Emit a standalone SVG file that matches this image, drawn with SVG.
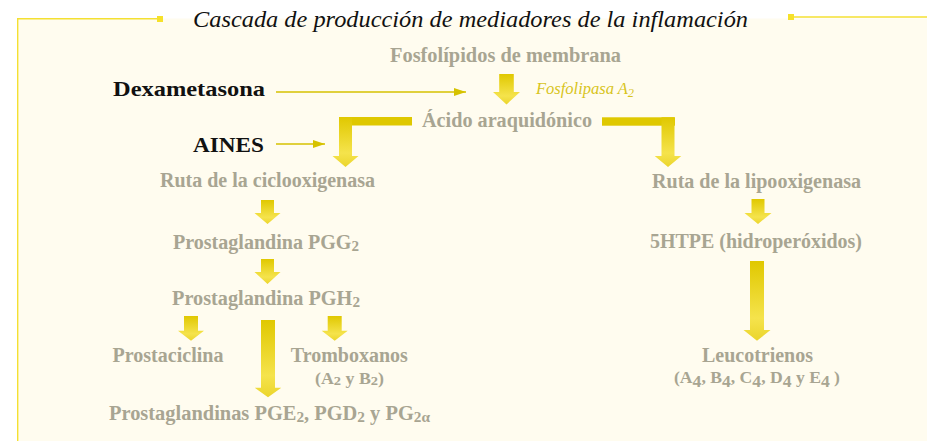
<svg xmlns="http://www.w3.org/2000/svg" width="927" height="441" viewBox="0 0 927 441">
<style>
.lbl{font-family:"Liberation Serif","Times New Roman",serif;font-weight:bold;font-size:20px;fill:#a8a592;text-anchor:middle}
.sm{font-size:16px}
.drug{font-family:"Liberation Serif","Times New Roman",serif;font-weight:bold;font-size:22px;fill:#111}
.blk{fill:url(#g)}
.bar{fill:#dfc800}
.thin{stroke:#d6c200;stroke-width:1.5;fill:none}
.frame{stroke:#f4e032;stroke-width:1.4;fill:none}
</style>
<defs>
<linearGradient id="g" x1="0" y1="0" x2="0" y2="1">
<stop offset="0" stop-color="#e0c800"/>
<stop offset="0.72" stop-color="#f5e34c"/>
<stop offset="1" stop-color="#ebd52c"/>
</linearGradient>
<marker id="ah" viewBox="0 0 12 8" refX="12" refY="4" markerWidth="12" markerHeight="8" markerUnits="userSpaceOnUse" orient="auto">
<path d="M0,0 L12,4 L0,8 Z" fill="#d6c200"/>
</marker>
</defs>
<rect x="0" y="0" width="927" height="441" fill="#ffffff"/>
<rect x="17.5" y="18.5" width="910" height="423" fill="#fffcef"/>
<g id="frame">
<path class="frame" d="M17.7,441 V18.7 H160"/>
<rect x="157" y="16" width="6" height="6" fill="#f6e12a"/>
<path class="frame" d="M791,17 H927"/>
<rect x="788" y="14" width="6" height="6" fill="#f6e12a"/>
</g>
<text id="title" x="193" y="27" textLength="555" lengthAdjust="spacingAndGlyphs" font-family="'Liberation Serif','Times New Roman',serif" font-style="italic" font-size="24" fill="#111">Cascada de producción de mediadores de la inflamación</text>

<g id="connectors">
<line class="thin" x1="276" y1="92" x2="466" y2="92" marker-end="url(#ah)"/>
<line class="thin" x1="276" y1="144" x2="325" y2="144" marker-end="url(#ah)"/>
<path class="blk" d="M499.2,74 H513.8 V92 H520 L506.5,104.5 L493,92 H499.2 Z"/>
<rect class="bar" x="339" y="117" width="73" height="8.5"/>
<path class="blk" d="M339,117 H352 V156 H358.5 L345.5,167 L332.5,156 H339 Z"/>
<rect class="bar" x="602" y="117.3" width="73" height="8.4"/>
<path class="blk" d="M661.5,117.3 H674.5 V156 H681.3 L668,167 L654.7,156 H661.5 Z"/>
<path class="blk" d="M261,200 H274 V213 H280.5 L267.5,224 L254.5,213 H261 Z"/>
<path class="blk" d="M261,259 H274 V272 H280.5 L267.5,284 L254.5,272 H261 Z"/>
<path class="blk" d="M184,316 H198 V330.7 H204 L191,340.7 L178,330.7 H184 Z"/>
<path class="blk" d="M327.7,316 H341.7 V330.7 H347.7 L334.7,340.7 L321.7,330.7 H327.7 Z"/>
<path class="blk" d="M261,320 H275 V387.7 H281.3 L268,397.3 L254.7,387.7 H261 Z"/>
<path class="blk" d="M751.5,199 H764.5 V213 H771.5 L758,224 L744.5,213 H751.5 Z"/>
<path class="blk" d="M750,261 H764 V330 H770.5 L757,340.7 L743.5,330 H750 Z"/>
</g>

<g id="fosfolipidos"><text class="lbl" x="505.5" y="62" textLength="231" lengthAdjust="spacingAndGlyphs">Fosfolípidos de membrana</text></g>
<g id="fosfolipasa"><text x="536" y="94" textLength="98" lengthAdjust="spacingAndGlyphs" font-family="'Liberation Serif','Times New Roman',serif" font-style="italic" font-size="16" fill="#d8c41c">Fosfolipasa A<tspan font-size="12" dy="3">2</tspan></text></g>
<g id="dexametasona"><text class="drug" x="113" y="96" textLength="152" lengthAdjust="spacingAndGlyphs">Dexametasona</text></g>
<g id="aines"><text class="drug" x="193" y="152" textLength="71" lengthAdjust="spacingAndGlyphs">AINES</text></g>
<g id="acido"><text class="lbl" x="507" y="127" textLength="170" lengthAdjust="spacingAndGlyphs">Ácido araquidónico</text></g>
<g id="ciclo"><text class="lbl" x="267.5" y="187" textLength="215" lengthAdjust="spacingAndGlyphs">Ruta de la ciclooxigenasa</text></g>
<g id="lipo"><text class="lbl" x="756.5" y="188" textLength="209" lengthAdjust="spacingAndGlyphs">Ruta de la lipooxigenasa</text></g>
<g id="pgg2"><text class="lbl" x="266" y="249" textLength="186" lengthAdjust="spacingAndGlyphs">Prostaglandina PGG<tspan font-size="15" dy="2">2</tspan></text></g>
<g id="htpe"><text class="lbl" x="756" y="248" textLength="212" lengthAdjust="spacingAndGlyphs">5HTPE (hidroperóxidos)</text></g>
<g id="pgh2"><text class="lbl" x="266" y="305" textLength="188" lengthAdjust="spacingAndGlyphs">Prostaglandina PGH<tspan font-size="15" dy="2">2</tspan></text></g>
<g id="prostaciclina"><text class="lbl" x="168" y="362" textLength="111" lengthAdjust="spacingAndGlyphs">Prostaciclina</text></g>
<g id="tromboxanos"><text class="lbl" x="349.3" y="362" textLength="117" lengthAdjust="spacingAndGlyphs">Tromboxanos</text><text class="lbl sm" x="349.5" y="384" textLength="69" lengthAdjust="spacingAndGlyphs">(A<tspan font-size="13" dy="1">2</tspan><tspan dy="-1"> y B</tspan><tspan font-size="13" dy="1">2</tspan><tspan dy="-1">)</tspan></text></g>
<g id="prostaglandinas"><text class="lbl" x="269.5" y="420" textLength="321" lengthAdjust="spacingAndGlyphs">Prostaglandinas PGE<tspan font-size="15" dy="2">2</tspan><tspan dy="-2">, PGD</tspan><tspan font-size="15" dy="2">2</tspan><tspan dy="-2"> y PG</tspan><tspan font-size="15" dy="2">2α</tspan></text></g>
<g id="leucotrienos"><text class="lbl" x="757.5" y="362" textLength="111" lengthAdjust="spacingAndGlyphs">Leucotrienos</text><text class="lbl sm" x="757" y="383" textLength="166" lengthAdjust="spacingAndGlyphs">(A<tspan dy="4">4</tspan><tspan dy="-4">, B</tspan><tspan dy="4">4</tspan><tspan dy="-4">, C</tspan><tspan dy="4">4</tspan><tspan dy="-4">, D</tspan><tspan dy="4">4</tspan><tspan dy="-4"> y E</tspan><tspan dy="4">4</tspan><tspan dy="-4"> )</tspan></text></g>
</svg>
